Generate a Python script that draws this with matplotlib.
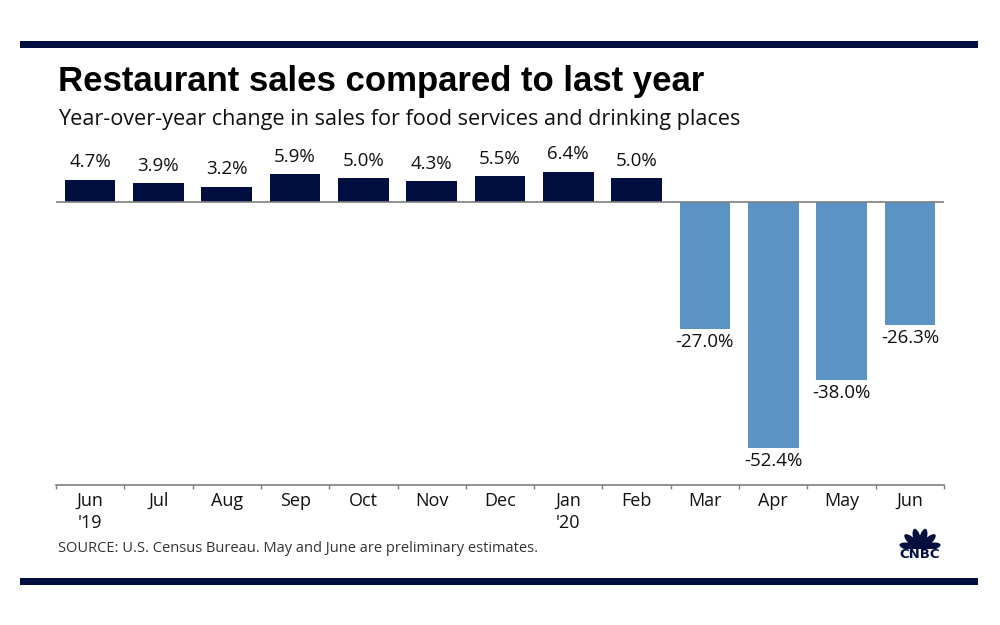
import matplotlib
matplotlib.use("Agg")
import matplotlib.pyplot as plt
from matplotlib.patches import Rectangle, Ellipse
import numpy as np

months = ["Jun", "Jul", "Aug", "Sep", "Oct", "Nov", "Dec", "Jan", "Feb", "Mar", "Apr", "May", "Jun"]
years = ["'19", "", "", "", "", "", "", "'20", "", "", "", "", ""]
values = [4.7, 3.9, 3.2, 5.9, 5.0, 4.3, 5.5, 6.4, 5.0, -27.0, -52.4, -38.0, -26.3]

NAVY = "#000f3f"
BLUE = "#5b93c4"
GRAY = "#7f7f7f"
FONT = ["Open Sans", "DejaVu Sans"]

fig = plt.figure(figsize=(10, 6.25), dpi=100)
fig.patch.set_facecolor("white")

# decorative bars top & bottom
fig.add_artist(Rectangle((0.02, 1 - 48/625), 0.958, 7/625, transform=fig.transFigure, color=NAVY, lw=0))
fig.add_artist(Rectangle((0.02, 1 - 585/625), 0.958, 7/625, transform=fig.transFigure, color=NAVY, lw=0))

fig.text(0.058, 1 - 81/625, "Restaurant sales compared to last year", fontsize=25, fontweight="bold",
         family=["Liberation Sans Narrow", "Liberation Sans", "DejaVu Sans"], va="center", ha="left", color="black")
fig.text(0.058, 1 - 119/625, "Year-over-year change in sales for food services and drinking places", fontsize=15.6,
         family=FONT, va="center", ha="left", color="#111111")
fig.text(0.058, 1 - 549/625, "SOURCE: U.S. Census Bureau. May and June are preliminary estimates.", fontsize=10.5,
         family=FONT, va="center", ha="left", color="#333333")

ax = fig.add_axes([0.056, 1 - 485/625, 0.888, (485 - 150)/625])
x = np.arange(len(values))
colors = [NAVY if v >= 0 else BLUE for v in values]
ax.bar(x, values, width=0.74, color=colors, zorder=2)
ax.axhline(0, color=GRAY, lw=1.2, zorder=3)
ax.set_xlim(-0.5, len(values) - 0.5)
ax.set_ylim(-60.3, 11)

for xi, v in zip(x, values):
    if v >= 0:
        ax.annotate(f"{v:.1f}%", (xi, v), xytext=(0, 6), textcoords="offset points", ha="center", va="bottom",
                    fontsize=13.5, family=FONT, color="#111111")
    else:
        ax.annotate(f"{v:.1f}%", (xi, v), xytext=(0, -3), textcoords="offset points", ha="center", va="top",
                    fontsize=13.5, family=FONT, color="#111111")

for s in ["top", "left", "right"]:
    ax.spines[s].set_visible(False)
ax.spines["bottom"].set_color(GRAY)
ax.spines["bottom"].set_linewidth(1.2)
ax.set_yticks([])
ax.set_xticks(np.arange(-0.5, len(values), 1.0))
ax.set_xticklabels([])
ax.tick_params(axis="x", direction="out", length=3, width=1, color=GRAY)
labels = [m if y == "" else f"{m}\n{y}" for m, y in zip(months, years)]
ax.set_xticks(x, minor=True)
ax.set_xticklabels(labels, minor=True, fontsize=13, family=FONT, color="#111111", va="top", linespacing=1.3)
ax.tick_params(axis="x", which="minor", length=0, pad=5)

# CNBC peacock logo (approximation)
lax = fig.add_axes([896/1000, 1 - 562/625, 48/1000, 38/625])
lax.set_xlim(0, 48)
lax.set_ylim(0, 38)
lax.axis("off")
cx, cy = 24, 13
for a in np.linspace(168, 12, 6):
    d = 10.5
    ex = cx + d * np.cos(np.radians(a))
    ey = cy + d * np.sin(np.radians(a))
    lax.add_patch(Ellipse((ex, ey), 21, 7.6, angle=a, color=NAVY, lw=0))
lax.add_patch(Rectangle((0, 0), 48, cy, color="white", lw=0, zorder=3))
lax.text(24, 7, "CNBC", ha="center", va="center", fontsize=9.5, fontweight="bold", color=NAVY,
         family=["DejaVu Sans"], zorder=4)

fig.savefig("out.png", dpi=100, facecolor="white")
